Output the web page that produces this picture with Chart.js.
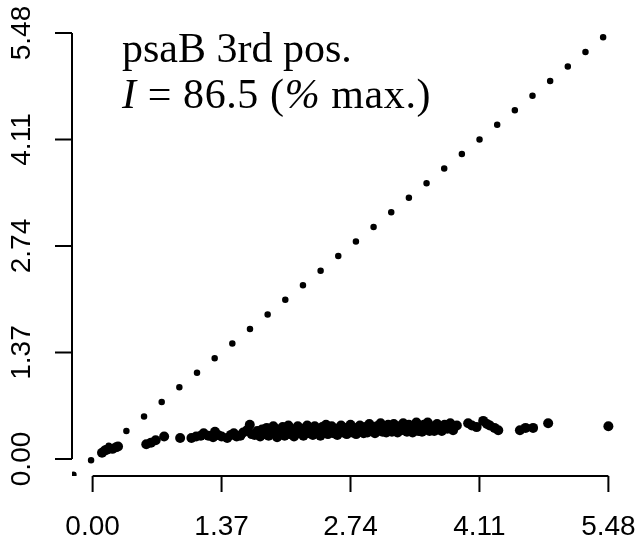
<!DOCTYPE html>
<html>
<head>
<meta charset="utf-8">
<script src="https://cdn.jsdelivr.net/npm/chart.js@4/dist/chart.umd.min.js"></script>
<style>
  html, body { margin: 0; padding: 0; background: #fff; }
  #wrap { width: 639px; height: 543px; position: relative; }
</style>
</head>
<body>
<div id="wrap"><canvas id="plotChart"></canvas></div>
<script>
// tick values shared by both axes
const tickValues = [0, 1.37, 2.74, 4.11, 5.48];
const tickLabels = ['0.00', '1.37', '2.74', '4.11', '5.48'];
const axisMin = -0.219;
const axisMax = 5.699;

// dotted reference line y = x (start and end)
const refLine = [-0.204, 5.45];

const xVals = [
  0.10, 0.13, 0.15, 0.21, 0.25, 0.27,
  0.57, 0.62, 0.67, 0.76, 0.93,
  1.05, 1.10, 1.15, 1.18, 1.23, 1.28, 1.30, 1.33, 1.37, 1.43, 1.47, 1.50, 1.53, 1.57, 1.60,
  1.64, 1.67, 1.69, 1.72, 1.75, 1.78, 1.80, 1.83, 1.85, 1.87, 1.90, 1.92, 1.94, 1.96, 1.98,
  2.00, 2.02, 2.04, 2.06, 2.08, 2.10, 2.12, 2.14, 2.16, 2.18, 2.20,
  2.22, 2.24, 2.26, 2.28, 2.30, 2.32, 2.34, 2.36, 2.38, 2.40, 2.42, 2.44, 2.46, 2.48, 2.50,
  2.52, 2.54, 2.56, 2.58, 2.60, 2.62, 2.64, 2.66, 2.68, 2.70, 2.72, 2.74, 2.76, 2.78, 2.80,
  2.82, 2.84, 2.86, 2.88,
  2.90, 2.92, 2.94, 2.96, 2.98, 3.00, 3.02, 3.04, 3.06, 3.08, 3.10, 3.12, 3.14, 3.16, 3.18,
  3.20, 3.22, 3.24, 3.26, 3.28, 3.30, 3.32, 3.34, 3.36, 3.38, 3.40, 3.42, 3.44, 3.46, 3.48,
  3.50, 3.52, 3.54, 3.56, 3.58,
  3.60, 3.63, 3.66, 3.68, 3.71, 3.74, 3.77, 3.80, 3.83, 3.87,
  3.99, 4.03, 4.08, 4.15, 4.19, 4.22, 4.27, 4.31, 4.54, 4.60, 4.68, 4.84, 5.48
];
const yVals = [
  0.08, 0.11, 0.12, 0.13, 0.15, 0.16,
  0.19, 0.21, 0.24, 0.29, 0.27,
  0.27, 0.29, 0.30, 0.33, 0.30, 0.28, 0.35, 0.31, 0.29, 0.27, 0.31, 0.33, 0.29, 0.30, 0.34,
  0.37, 0.44, 0.32, 0.31, 0.36, 0.29, 0.38, 0.32, 0.40, 0.30, 0.35, 0.42, 0.32, 0.28, 0.38,
  0.34, 0.41, 0.30, 0.36, 0.43, 0.32, 0.38, 0.29, 0.35, 0.42, 0.33,
  0.39, 0.30, 0.36, 0.43, 0.33, 0.39, 0.31, 0.42, 0.35, 0.38, 0.30, 0.41, 0.36, 0.44, 0.32,
  0.38, 0.42, 0.33, 0.39, 0.31, 0.36, 0.43, 0.34, 0.40, 0.32, 0.38, 0.44, 0.34, 0.40, 0.32,
  0.39, 0.43, 0.36, 0.33,
  0.41, 0.34, 0.45, 0.37, 0.40, 0.33, 0.42, 0.38, 0.46, 0.35, 0.41, 0.34, 0.44, 0.38, 0.35,
  0.45, 0.39, 0.34, 0.42, 0.37, 0.46, 0.39, 0.35, 0.44, 0.38, 0.34, 0.42, 0.47, 0.36, 0.41,
  0.35, 0.44, 0.39, 0.47, 0.36,
  0.42, 0.36, 0.45, 0.40, 0.36, 0.44, 0.39, 0.46, 0.37, 0.43,
  0.46, 0.43, 0.41, 0.49, 0.45, 0.43, 0.40, 0.37, 0.37, 0.40, 0.40, 0.46, 0.42
];

const points = xVals.map((x, i) => ({ x: x, y: yVals[i] }));
const refPoints = refLine.map(v => ({ x: v, y: v }));

// R-style axes: lines only between first and last tick, labels drawn by hand
const rAxes = {
  id: 'rAxes',
  afterDraw(chart) {
    const ctx = chart.ctx;
    const area = chart.chartArea;
    const xs = chart.scales.x;
    const ys = chart.scales.y;
    ctx.save();
    ctx.strokeStyle = '#000';
    ctx.fillStyle = '#000';
    ctx.lineWidth = 2;

    // x axis
    const xb = area.bottom;
    ctx.beginPath();
    ctx.moveTo(xs.getPixelForValue(tickValues[0]), xb);
    ctx.lineTo(xs.getPixelForValue(tickValues[tickValues.length - 1]), xb);
    tickValues.forEach(v => {
      const px = xs.getPixelForValue(v);
      ctx.moveTo(px, xb);
      ctx.lineTo(px, xb + 16);
    });
    ctx.stroke();
    ctx.font = "28px 'Liberation Sans', Arial, sans-serif";
    ctx.textAlign = 'center';
    ctx.textBaseline = 'middle';
    tickValues.forEach((v, i) => {
      ctx.fillText(tickLabels[i], xs.getPixelForValue(v), xb + 51);
    });

    // y axis
    const yl = area.left;
    ctx.beginPath();
    ctx.moveTo(yl, ys.getPixelForValue(tickValues[0]));
    ctx.lineTo(yl, ys.getPixelForValue(tickValues[tickValues.length - 1]));
    tickValues.forEach(v => {
      const py = ys.getPixelForValue(v);
      ctx.moveTo(yl, py);
      ctx.lineTo(yl - 17, py);
    });
    ctx.stroke();
    tickValues.forEach((v, i) => {
      ctx.save();
      ctx.translate(yl - 50, ys.getPixelForValue(v));
      ctx.rotate(-Math.PI / 2);
      ctx.fillText(tickLabels[i], 0, 0);
      ctx.restore();
    });

    // annotation in the top-left corner
    ctx.textAlign = 'left';
    ctx.textBaseline = 'alphabetic';
    const serif = "'Liberation Serif', 'Times New Roman', serif";
    let tx = 122;
    ctx.font = '42px ' + serif;
    ctx.fillText('psaB 3rd pos.', tx, 62);
    ctx.letterSpacing = '0.6px';
    const parts = [
      ['italic ', 'I'],
      ['', ' = 86.5 ('],
      ['italic ', '%'],
      ['', ' max.)']
    ];
    parts.forEach(p => {
      ctx.font = p[0] + '42px ' + serif;
      ctx.fillText(p[1], tx, 108);
      tx += ctx.measureText(p[1]).width;
    });
    ctx.restore();
  }
};

const ctx = document.getElementById('plotChart').getContext('2d');
const scatterChart = new Chart(ctx, {
  type: 'scatter',
  data: {
    datasets: [
      {
        type: 'line',
        data: refPoints,
        borderColor: '#000',
        borderWidth: 6.5,
        borderDash: [0, 22.9],
        borderCapStyle: 'round',
        pointRadius: 0,
        fill: false
      },
      {
        data: points,
        backgroundColor: '#000',
        borderWidth: 0,
        pointRadius: 5
      }
    ]
  },
  options: {
    responsive: true,
    maintainAspectRatio: false,
    animation: false,
    layout: { padding: { left: 72, right: 10, top: 16, bottom: 67 } },
    plugins: { legend: { display: false }, tooltip: { enabled: false } },
    scales: {
      x: { type: 'linear', min: axisMin, max: axisMax, display: false },
      y: { type: 'linear', min: axisMin, max: axisMax, display: false }
    }
  },
  plugins: [rAxes]
});
</script>
</body>
</html>
